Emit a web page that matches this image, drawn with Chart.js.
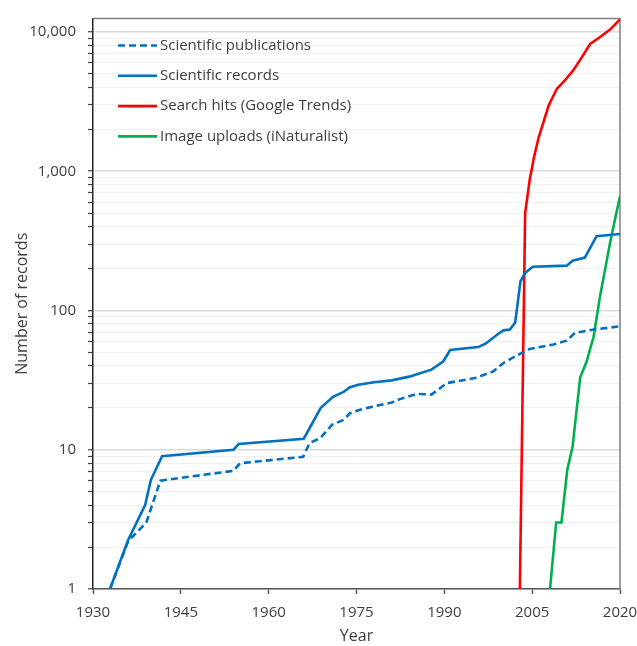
<!DOCTYPE html>
<html><head><meta charset="utf-8">
<script src="https://cdn.jsdelivr.net/npm/chart.js@4/dist/chart.umd.min.js"></script>
<style>html,body{margin:0;padding:0;background:#fff}</style>
</head><body>
<canvas id="c" width="637" height="646"></canvas>
<script>
// ---- data ----
const seriesLabels = ['Scientific publications', 'Scientific records', 'Search hits (Google Trends)', 'Image uploads (iNaturalist)'];

const pubsYears  = [1932.9, 1936.0, 1939.1, 1941.5, 1954.0, 1955.1, 1965.9, 1967.0, 1968.8, 1970.8, 1972.8, 1973.9, 1975.6, 1978.0, 1981.0, 1982.4, 1985.3, 1987.8, 1990.4, 1995.5, 1998.4, 2000.1, 2003.2, 2004.6, 2008.6, 2010.9, 2012.3, 2015.5, 2020.0];
const pubsValues = [1, 2.2, 3.0, 6.0, 7.06, 8.0, 8.9, 11.2, 12.1, 15.1, 16.4, 18.3, 19.4, 20.5, 21.8, 23.1, 25.2, 24.9, 30.1, 32.9, 36.6, 42, 49.6, 53, 57, 60.7, 69, 73, 77];

const recYears  = [1932.9, 1936.0, 1938.9, 1939.9, 1941.8, 1954.0, 1954.9, 1966.0, 1968.9, 1971.0, 1972.8, 1973.8, 1975.3, 1978.0, 1981.0, 1984.0, 1987.8, 1989.8, 1991.0, 1995.8, 1997.1, 1999.0, 2000.1, 2001.2, 2002.1, 2003.0, 2003.8, 2005.1, 2010.9, 2011.9, 2014.0, 2016.0, 2020.0];
const recValues = [1, 2.25, 4, 6.1, 9, 10, 11, 12, 20, 24, 26, 28, 29.3, 30.5, 31.5, 33.5, 37.6, 43, 52, 54.6, 58, 67, 72, 73, 82, 162, 186, 206, 210, 228, 240, 342, 354];

const searchYears  = [2002.9, 2003.8, 2004.6, 2005.3, 2006.1, 2007.0, 2007.8, 2008.5, 2009.2, 2010.5, 2012.0, 2013.5, 2014.9, 2016.6, 2018.3, 2020.0];
const searchValues = [1, 500, 880, 1250, 1745, 2300, 2950, 3400, 3900, 4450, 5300, 6600, 8200, 9200, 10400, 12300];

const imgYears  = [2008.05, 2009.1, 2010.0, 2011.0, 2011.9, 2013.2, 2014.3, 2015.5, 2016.6, 2018.3, 2020.0];
const imgValues = [1, 3, 3, 7.2, 10.5, 33, 43, 65, 127, 305, 665];

const yearTicks = [1930, 1945, 1960, 1975, 1990, 2005, 2020];
const yMajorTicks = [1, 10, 100, 1000, 10000];
const yMin = 1, yMax = 12500, xMin = 1930, xMax = 2020;

// ---- build ----
const pts = (xs, ys) => xs.map((x, i) => ({x: x, y: ys[i]}));
const BLUE = '#0070C0', RED = '#FF0000', GREEN = '#00B050';
const FONT = '"Open Sans", sans-serif';
const TXT = '#404040';

const yAllTicks = [];
yMajorTicks.forEach((m, i) => {
  if (i < yMajorTicks.length - 1) { for (let k = 1; k <= 9; k++) yAllTicks.push(m * k); }
  else yAllTicks.push(m);
});

const frame = {
  id: 'frame',
  beforeDatasetsDraw(chart) {
    const {ctx, chartArea: a} = chart;
    ctx.save();
    ctx.strokeStyle = '#7f7f7f';
    ctx.lineWidth = 1.5;
    ctx.beginPath();
    ctx.moveTo(a.left, a.top); ctx.lineTo(a.right, a.top); ctx.lineTo(a.right, a.bottom);
    ctx.stroke();
    ctx.restore();
  }
};

const insideLegend = {
  id: 'insideLegend',
  afterDraw(chart) {
    const {ctx, chartArea: a} = chart;
    const x0 = a.left + 25, x1 = a.left + 64, tx = a.left + 67;
    const y0 = a.top + 27, dy = 30.3;
    ctx.save();
    ctx.font = '15px ' + FONT;
    ctx.textBaseline = 'middle';
    ctx.textAlign = 'left';
    chart.data.datasets.forEach((ds, i) => {
      const y = y0 + i * dy;
      ctx.strokeStyle = ds.borderColor;
      ctx.lineWidth = ds.borderWidth;
      ctx.setLineDash(ds.borderDash || []);
      ctx.beginPath(); ctx.moveTo(x0, y); ctx.lineTo(x1, y); ctx.stroke();
      ctx.setLineDash([]);
      ctx.fillStyle = TXT;
      ctx.fillText(ds.label, tx, y);
    });
    ctx.restore();
  }
};

new Chart(document.getElementById('c'), {
  type: 'line',
  data: {
    datasets: [
      {label: seriesLabels[0], data: pts(pubsYears, pubsValues), borderColor: BLUE, borderWidth: 2.6, borderDash: [7, 4]},
      {label: seriesLabels[1], data: pts(recYears, recValues), borderColor: BLUE, borderWidth: 2.6},
      {label: seriesLabels[2], data: pts(searchYears, searchValues), borderColor: RED, borderWidth: 2.6},
      {label: seriesLabels[3], data: pts(imgYears, imgValues), borderColor: GREEN, borderWidth: 2.6}
    ]
  },
  options: {
    responsive: false,
    animation: false,
    devicePixelRatio: 1,
    layout: {padding: {left: 0, top: 18.5, right: 17, bottom: 0}},
    elements: {point: {radius: 0}, line: {tension: 0, fill: false}},
    plugins: {legend: {display: false}, tooltip: {enabled: false}},
    scales: {
      x: {
        type: 'linear', min: xMin, max: xMax,
        afterBuildTicks(s) { s.ticks = yearTicks.map(v => ({value: v})); },
        afterFit(s) { s.height = 57; s.paddingLeft = 0; s.paddingRight = 0; },
        ticks: {font: {family: FONT, size: 15}, color: TXT, padding: 10, callback: v => String(v), maxRotation: 0, autoSkip: false},
        grid: {drawOnChartArea: false, drawTicks: true, tickLength: 5, tickColor: '#595959', tickWidth: 1.5},
        border: {color: '#595959', width: 1.5},
        title: {display: true, text: 'Year', font: {family: FONT, size: 16}, color: TXT, padding: {top: 0, bottom: 0.4}}
      },
      y: {
        type: 'logarithmic', min: yMin, max: yMax,
        afterBuildTicks(s) { s.ticks = yAllTicks.map(v => ({value: v, major: yMajorTicks.includes(v)})); },
        afterFit(s) { s.width = 93; s.paddingTop = 0; s.paddingBottom = 0; },
        ticks: {font: {family: FONT, size: 15}, color: TXT, padding: 12, autoSkip: false,
          callback: (v) => yMajorTicks.includes(v) ? v.toLocaleString('en-US') : ''},
        grid: {
          drawTicks: true, tickLength: 5, tickWidth: 1.2,
          tickColor: '#404040',
          color: c => yMajorTicks.includes(c.tick.value) ? '#d9d9d9' : '#f0f0f0',
          lineWidth: c => yMajorTicks.includes(c.tick.value) ? 1.5 : 1
        },
        border: {color: '#262626', width: 1.5},
        title: {display: true, text: 'Number of records', font: {family: FONT, size: 16}, color: TXT, padding: {top: 12.4, bottom: 0}}
      }
    }
  },
  plugins: [frame, insideLegend]
});
</script>
</body></html>
